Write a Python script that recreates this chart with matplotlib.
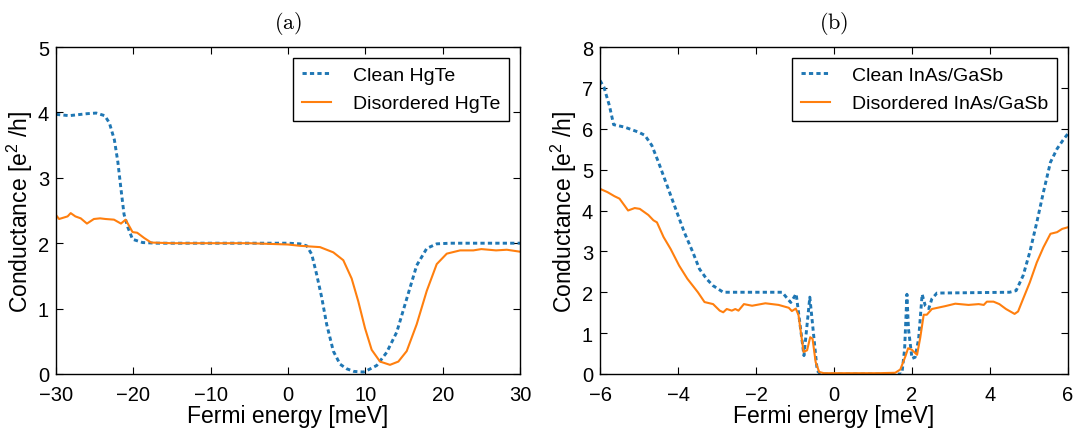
import matplotlib
matplotlib.use("Agg")
import matplotlib.pyplot as plt

plt.rcParams['font.family'] = ['Liberation Sans', 'DejaVu Sans']
plt.rcParams['mathtext.fontset'] = 'custom'
plt.rcParams['mathtext.rm'] = 'Liberation Sans'
plt.rcParams['mathtext.it'] = 'Liberation Sans'

# ---- Panel (a): HgTe ----
hg_clean_x = [-30, -28.3, -26, -24.8, -23.7, -23.1, -22.45, -22.0, -21.6, -21.2, -20.7,
              -20.1, -18.8, -17, 0, 1.55, 2.42, 3.07, 3.71, 4.36, 5.0, 5.86, 6.73, 7.59,
              8.5, 9.74, 10.0, 11.47, 12.76, 14.06, 15.35, 16.64, 17.94, 19.23, 21, 30]
hg_clean_y = [3.97, 3.95, 3.98, 3.99, 3.95, 3.84, 3.58, 3.24, 2.83, 2.44, 2.24,
              2.06, 2.01, 2.0, 2.0, 1.99, 1.96, 1.83, 1.52, 1.17, 0.76, 0.35, 0.15, 0.08,
              0.04, 0.03, 0.04, 0.13, 0.33, 0.64, 1.15, 1.66, 1.92, 1.99, 2.0, 2.0]

hg_dis_x = [-30, -29.6, -28.5, -28.1, -27.5, -26.8, -26.0, -25.1, -24.3, -23.6, -22.5,
            -21.6, -21.0, -20.1, -19.5, -18.6, -17.7, -15, -10, -5, 0, 1.55, 4.14,
            5.86, 7.15, 8.23, 9.09, 9.96, 10.82, 11.9, 13.19, 14.27, 15.35, 16.64,
            17.94, 19.23, 20.53, 22.25, 23.97, 25.0, 26.9, 28.3, 30]
hg_dis_y = [2.43, 2.37, 2.41, 2.46, 2.41, 2.38, 2.30, 2.37, 2.38, 2.37, 2.36,
            2.30, 2.36, 2.17, 2.16, 2.08, 2.01, 2.0, 2.0, 2.0, 1.98, 1.96, 1.94,
            1.86, 1.74, 1.46, 1.11, 0.70, 0.37, 0.19, 0.14, 0.19, 0.35, 0.76,
            1.27, 1.68, 1.84, 1.89, 1.89, 1.91, 1.89, 1.90, 1.87]

# ---- Panel (b): InAs/GaSb ----
ia_clean_x = [-6, -5.9, -5.76, -5.65, -5.37, -5.02, -4.85, -4.67, -4.5, -4.28, -4.06,
              -3.84, -3.62, -3.45, -3.27, -3.1, -2.84, -1.33, -1.11, -0.97, -0.77,
              -0.62, -0.43, -0.35, 1.74, 1.81, 1.87, 1.91, 2.0, 2.08, 2.17, 2.26,
              2.34, 2.43, 2.51, 2.64, 4.5, 4.67, 4.85, 5.02, 5.2, 5.37, 5.55, 5.72,
              5.9, 6.0]
ia_clean_y = [7.18, 7.02, 6.57, 6.1, 6.04, 5.92, 5.84, 5.59, 5.18, 4.61, 4.04,
              3.47, 2.98, 2.57, 2.33, 2.16, 2.0, 2.0, 1.75, 1.96, 0.45,
              1.88, 0.08, 0.0, 0.0, 0.6, 1.95, 1.1, 0.38, 0.41, 0.86, 1.95,
              1.67, 1.6, 1.84, 1.98, 2.0, 2.04, 2.41, 2.98, 3.71, 4.45, 5.18, 5.51,
              5.76, 5.88]

ia_dis_x = [-6, -5.81, -5.63, -5.5, -5.37, -5.28, -5.11, -4.98, -4.76, -4.63, -4.54,
            -4.37, -4.19, -3.97, -3.76, -3.49, -3.32, -3.1, -2.93, -2.84, -2.75,
            -2.62, -2.53, -2.45, -2.31, -2.10, -1.76, -1.42, -1.16, -1.08, -0.98,
            -0.91, -0.78, -0.69, -0.61, -0.55, -0.47, -0.38, -0.26, 1.15, 1.57,
            1.70, 1.83, 1.90, 2.0, 2.04, 2.13, 2.21, 2.30, 2.38, 2.51, 2.85, 3.11,
            3.45, 3.71, 3.84, 3.92, 4.09, 4.24, 4.41, 4.63, 4.72, 4.85, 5.02, 5.2,
            5.37, 5.55, 5.72, 5.85, 6.0]
ia_dis_y = [4.53, 4.45, 4.35, 4.29, 4.12, 4.0, 4.06, 4.04, 3.89, 3.76, 3.71,
            3.35, 3.06, 2.65, 2.33, 2.0, 1.76, 1.71, 1.55, 1.51, 1.59,
            1.55, 1.59, 1.55, 1.71, 1.67, 1.73, 1.69, 1.62, 1.54, 1.6,
            1.44, 0.54, 0.58, 0.90, 0.86, 0.29, 0.05, 0.02, 0.02, 0.03,
            0.11, 0.43, 0.63, 0.59, 0.55, 0.47, 0.88, 1.45, 1.45, 1.59, 1.66, 1.72,
            1.69, 1.71, 1.69, 1.77, 1.77, 1.71, 1.59, 1.47, 1.53, 1.84, 2.24, 2.73,
            3.1, 3.43, 3.47, 3.55, 3.59]

blue = '#1f77b4'
orange = '#ff7f0e'
tick_fs = 14.5
label_fs = 16.5
legend_fs = 14

fig = plt.figure(figsize=(10.74, 4.31), dpi=100)
ax1 = fig.add_axes([56 / 1074, 56 / 431, 464 / 1074, 327 / 431])
ax2 = fig.add_axes([600 / 1074, 56 / 431, 468 / 1074, 327 / 431])

panels = [
    (ax1, hg_clean_x, hg_clean_y, hg_dis_x, hg_dis_y, 'Clean HgTe', 'Disordered HgTe',
     (-30, 30), (0, 5), [-30, -20, -10, 0, 10, 20, 30], [0, 1, 2, 3, 4, 5], r'$\mathrm{(a)}$'),
    (ax2, ia_clean_x, ia_clean_y, ia_dis_x, ia_dis_y, 'Clean InAs/GaSb',
     'Disordered InAs/GaSb', (-6, 6), (0, 8), [-6, -4, -2, 0, 2, 4, 6],
     [0, 1, 2, 3, 4, 5, 6, 7, 8], r'$\mathrm{(b)}$'),
]

for ax, cx, cy, dx, dy, lc, ld, xl, yl, xt, yt, title in panels:
    ax.plot(cx, cy, linestyle=(0, (1.45, 1.1)), color=blue, linewidth=2.1, label=lc)
    ax.plot(dx, dy, linestyle='-', color=orange, linewidth=1.5, label=ld)
    ax.set_xlim(*xl)
    ax.set_ylim(*yl)
    ax.set_xticks(xt)
    ax.set_yticks(yt)
    ax.set_xticklabels([str(v).replace('-', '\u2212') for v in xt])
    ax.tick_params(direction='in', top=True, right=True, length=5, labelsize=tick_fs)
    ax.tick_params(axis='x', pad=8)
    ax.tick_params(axis='y', pad=5)
    ax.set_xlabel('Fermi energy [meV]', fontsize=label_fs, labelpad=0)
    ax.set_ylabel('Conductance [e$^2$ /h]', fontsize=label_fs, labelpad=2)
    ax.set_title(title, fontsize=16, math_fontfamily='cm', pad=14)
    leg = ax.legend(loc='upper right', fontsize=legend_fs, fancybox=False,
                    edgecolor='black', framealpha=1, handlelength=1.5,
                    handletextpad=1.15, borderpad=0.45, labelspacing=0.55,
                    borderaxespad=0.55)
    leg.get_frame().set_linewidth(1.0)
    for s in ax.spines.values():
        s.set_linewidth(1.0)

fig.savefig('out.png', dpi=100)
